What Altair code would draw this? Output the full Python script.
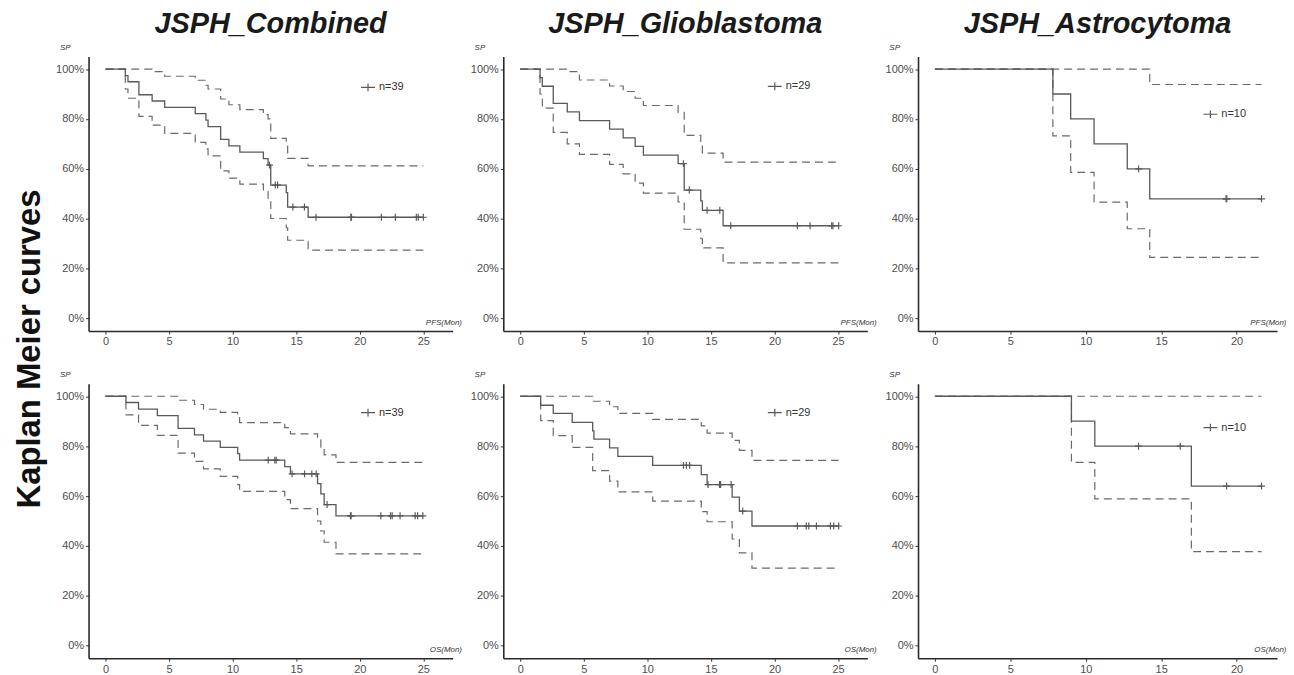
import altair as alt
import pandas as pd

FONT = "Liberation Sans"
MAIN_COL = "#595959"
CI_COL = "#6a6a6a"

# ---------------- data ----------------
# PFS - Combined (n=39)
p1_main_t = [0, 1.56, 1.77, 2.63, 3.67, 4.66, 7.06, 7.9, 8.07, 9.06, 9.71, 10.57, 12.42, 12.79, 13.0, 14.22, 14.33, 15.94, 25.0]
p1_main_s = [1.0, 0.974, 0.949, 0.897, 0.872, 0.846, 0.821, 0.795, 0.769, 0.718, 0.692, 0.667, 0.641, 0.615, 0.535, 0.505, 0.447, 0.406, 0.406]
p1_up_t = [0, 3.67, 4.66, 7.06, 7.9, 8.07, 9.06, 9.71, 10.57, 12.42, 12.79, 13.0, 14.22, 14.33, 15.94, 25.0]
p1_up_s = [1.0, 0.99, 0.971, 0.955, 0.935, 0.92, 0.88, 0.857, 0.837, 0.817, 0.8, 0.722, 0.698, 0.642, 0.612, 0.612]
p1_lo_t = [0, 1.56, 1.77, 2.63, 3.67, 4.66, 7.06, 7.9, 8.07, 9.06, 9.71, 10.57, 12.42, 12.79, 13.0, 14.22, 14.33, 15.94, 25.0]
p1_lo_s = [1.0, 0.92, 0.883, 0.81, 0.775, 0.742, 0.706, 0.68, 0.652, 0.592, 0.563, 0.539, 0.51, 0.483, 0.401, 0.364, 0.314, 0.274, 0.274]
p1_cen_t = [12.9, 13.36, 13.54, 14.74, 15.65, 16.56, 19.3, 19.35, 21.7, 22.8, 24.45, 24.6, 25.0]
p1_cen_s = [0.615, 0.535, 0.535, 0.447, 0.447, 0.406, 0.406, 0.406, 0.406, 0.406, 0.406, 0.406, 0.406]

# PFS - Glioblastoma (n=29)
p2_main_t = [0, 1.56, 1.74, 2.6, 3.7, 4.66, 7.03, 8.1, 9.04, 9.69, 12.42, 12.9, 14.2, 14.33, 15.96, 25.05]
p2_main_s = [1.0, 0.966, 0.931, 0.862, 0.828, 0.793, 0.759, 0.724, 0.69, 0.655, 0.621, 0.515, 0.472, 0.434, 0.372, 0.372]
p2_up_t = [0, 3.7, 4.66, 7.03, 8.1, 9.04, 9.69, 12.42, 12.9, 14.2, 14.33, 15.96, 25.05]
p2_up_s = [1.0, 0.99, 0.956, 0.932, 0.91, 0.883, 0.854, 0.826, 0.734, 0.70, 0.663, 0.627, 0.627]
p2_lo_t = [0, 1.56, 1.74, 2.6, 3.7, 4.66, 7.03, 8.1, 9.04, 9.69, 12.42, 12.9, 14.2, 14.33, 15.96, 25.05]
p2_lo_s = [1.0, 0.9, 0.843, 0.746, 0.70, 0.658, 0.618, 0.58, 0.543, 0.503, 0.468, 0.358, 0.32, 0.283, 0.223, 0.223]
p2_cen_t = [12.84, 13.3, 14.7, 15.7, 16.56, 21.8, 22.8, 24.5, 24.6, 25.05]
p2_cen_s = [0.621, 0.515, 0.434, 0.434, 0.372, 0.372, 0.372, 0.372, 0.372, 0.372]

# PFS - Astrocytoma (n=10)
p3_main_t = [0, 7.82, 9.0, 10.55, 12.75, 14.24, 21.65]
p3_main_s = [1.0, 0.9, 0.8, 0.7, 0.6, 0.48, 0.48]
p3_up_t = [0, 14.24, 21.65]
p3_up_s = [1.0, 0.938, 0.938]
p3_lo_t = [0, 7.82, 9.0, 10.55, 12.75, 14.24, 21.65]
p3_lo_s = [1.0, 0.732, 0.586, 0.467, 0.36, 0.245, 0.245]
p3_cen_t = [13.5, 19.3, 19.35, 21.65]
p3_cen_s = [0.6, 0.48, 0.48, 0.48]

# OS - Combined (n=39)
p4_main_t = [0, 1.61, 2.6, 4.08, 5.71, 7.0, 7.71, 9.03, 10.4, 10.55, 14.1, 14.55, 16.68, 16.94, 17.2, 18.13, 24.96]
p4_main_s = [1.0, 0.975, 0.948, 0.922, 0.871, 0.845, 0.82, 0.795, 0.77, 0.744, 0.718, 0.689, 0.65, 0.609, 0.566, 0.521, 0.521]
p4_up_t = [0, 5.71, 7.0, 7.71, 9.03, 10.4, 10.55, 14.1, 14.55, 16.68, 16.94, 17.2, 18.13, 24.96]
p4_up_s = [1.0, 0.984, 0.967, 0.948, 0.935, 0.914, 0.894, 0.874, 0.849, 0.825, 0.796, 0.765, 0.735, 0.735]
p4_lo_t = [0, 1.61, 2.6, 4.08, 5.71, 7.0, 7.71, 9.03, 10.4, 10.55, 14.1, 14.55, 16.68, 16.94, 17.2, 18.13, 24.96]
p4_lo_s = [1.0, 0.925, 0.883, 0.843, 0.772, 0.739, 0.709, 0.679, 0.646, 0.619, 0.586, 0.55, 0.5, 0.46, 0.415, 0.368, 0.368]
p4_cen_t = [12.8, 13.32, 13.43, 14.68, 15.66, 16.23, 16.57, 17.43, 19.27, 19.32, 21.66, 22.42, 22.55, 23.17, 24.36, 24.55, 24.96]
p4_cen_s = [0.744, 0.744, 0.744, 0.689, 0.689, 0.689, 0.689, 0.566, 0.521, 0.521, 0.521, 0.521, 0.521, 0.521, 0.521, 0.521, 0.521]

# OS - Glioblastoma (n=29)
p5_main_t = [0, 1.61, 2.6, 4.09, 5.7, 5.8, 7.03, 7.68, 10.42, 14.24, 14.7, 16.67, 17.24, 18.23, 25.05]
p5_main_s = [1.0, 0.964, 0.931, 0.895, 0.861, 0.828, 0.793, 0.759, 0.723, 0.686, 0.646, 0.596, 0.54, 0.48, 0.48]
p5_up_t = [0, 5.7, 7.03, 7.68, 10.42, 14.24, 14.7, 16.67, 17.24, 18.23, 25.05]
p5_up_s = [1.0, 0.98, 0.958, 0.931, 0.907, 0.881, 0.852, 0.823, 0.783, 0.743, 0.743]
p5_lo_t = [0, 1.61, 2.6, 4.09, 5.7, 7.03, 7.68, 10.42, 14.24, 14.7, 16.67, 17.24, 18.23, 25.05]
p5_lo_s = [1.0, 0.902, 0.842, 0.795, 0.702, 0.66, 0.617, 0.58, 0.538, 0.497, 0.428, 0.372, 0.311, 0.311]
p5_cen_t = [12.84, 13.07, 13.33, 14.77, 15.68, 15.76, 16.59, 17.5, 21.8, 22.5, 22.7, 23.3, 24.4, 24.66, 25.05]
p5_cen_s = [0.723, 0.723, 0.723, 0.646, 0.646, 0.646, 0.646, 0.54, 0.48, 0.48, 0.48, 0.48, 0.48, 0.48, 0.48]

# OS - Astrocytoma (n=10)
p6_main_t = [0, 9.05, 10.6, 17.0, 21.65]
p6_main_s = [1.0, 0.9, 0.8, 0.64, 0.64]
p6_up_t = [0, 21.65]
p6_up_s = [1.0, 1.0]
p6_lo_t = [0, 9.05, 10.6, 17.0, 21.65]
p6_lo_s = [1.0, 0.735, 0.589, 0.377, 0.377]
p6_cen_t = [13.5, 16.26, 19.34, 21.65]
p6_cen_s = [0.8, 0.8, 0.64, 0.64]

col_titles = ["JSPH_Combined", "JSPH_Glioblastoma", "JSPH_Astrocytoma"]
n_labels = ["n=39", "n=29", "n=10"]
x_ticks_long = [0, 5, 10, 15, 20, 25]
x_ticks_short = [0, 5, 10, 15, 20]
y_ticks = [0, 0.2, 0.4, 0.6, 0.8, 1.0]

H = 276


def panel(mt, ms, ut, us, lt, ls, ct, cs, nlab, xdom, width, xticks, xtitle, leg_xy, title=None):
    lines = pd.DataFrame(
        {"t": mt + ut + lt,
         "s": ms + us + ls,
         "kind": ["main"] * len(mt) + ["upper"] * len(ut) + ["lower"] * len(lt)}
    )
    lines["lab"] = nlab
    cens = pd.DataFrame({"t": ct, "s": cs})

    xs = alt.Scale(domain=xdom, nice=False, zero=False)
    ys = alt.Scale(domain=[-0.05, 1.05], nice=False, zero=False)
    xax = alt.Axis(values=xticks, grid=False, title=xtitle, titleX=width + 9, titleY=-9,
                   titleAlign="right", titleBaseline="middle", titleFontSize=8,
                   titleFontStyle="italic", titleFontWeight="normal", titleColor="#333333",
                   titleFont=FONT)
    yax = alt.Axis(values=y_ticks, format=".0%", grid=False, title="SP", titleAngle=0,
                   titleX=-24, titleY=-9, titleAlign="center", titleBaseline="middle",
                   titleFontSize=8, titleFontStyle="italic", titleFontWeight="normal",
                   titleColor="#333333", titleFont=FONT)

    base = alt.Chart(lines)
    ci = base.transform_filter(alt.datum.kind != "main").mark_line(
        interpolate="step-after", strokeDash=[8, 5], strokeWidth=1.2, color=CI_COL
    ).encode(
        x=alt.X("t:Q", scale=xs, axis=xax),
        y=alt.Y("s:Q", scale=ys, axis=yax),
        detail="kind:N",
    )
    main = base.transform_filter(alt.datum.kind == "main").mark_line(
        interpolate="step-after", strokeWidth=1.3
    ).encode(
        x=alt.X("t:Q", scale=xs, axis=xax),
        y=alt.Y("s:Q", scale=ys, axis=yax),
        color=alt.Color("lab:N", scale=alt.Scale(range=[MAIN_COL]),
                        legend=alt.Legend(title=None, orient="none",
                                          legendX=leg_xy[0], legendY=leg_xy[1],
                                          symbolType="M-1,0H1M0,-0.55V0.55",
                                          symbolSize=196, symbolStrokeWidth=1.2,
                                          labelFontSize=11, labelColor="#333333",
                                          labelFont=FONT, labelOffset=3)),
    )
    cen = alt.Chart(cens).mark_point(
        shape="M0,-1V1M-1,0H1", size=49, filled=False, strokeWidth=1.2,
        color=MAIN_COL, opacity=1
    ).encode(
        x=alt.X("t:Q", scale=xs, axis=xax),
        y=alt.Y("s:Q", scale=ys, axis=yax),
    )
    ch = alt.layer(ci, main, cen).properties(width=width, height=H)
    if title is not None:
        ch = ch.properties(title=alt.TitleParams(
            title, fontSize=29, font=FONT, fontStyle="italic", fontWeight="bold",
            color="#1a1a1a", anchor="middle", frame="group", offset=5))
    return ch


W12 = 366
W3 = 361
dom12 = [-1.33, 27.3]
dom3 = [-1.12, 22.68]

panels = [
    panel(p1_main_t, p1_main_s, p1_up_t, p1_up_s, p1_lo_t, p1_lo_s, p1_cen_t, p1_cen_s,
          n_labels[0], dom12, W12, x_ticks_long, "PFS(Mon)", (273, 23), col_titles[0]),
    panel(p2_main_t, p2_main_s, p2_up_t, p2_up_s, p2_lo_t, p2_lo_s, p2_cen_t, p2_cen_s,
          n_labels[1], dom12, W12, x_ticks_long, "PFS(Mon)", (265, 22), col_titles[1]),
    panel(p3_main_t, p3_main_s, p3_up_t, p3_up_s, p3_lo_t, p3_lo_s, p3_cen_t, p3_cen_s,
          n_labels[2], dom3, W3, x_ticks_short, "PFS(Mon)", (286, 50), col_titles[2]),
    panel(p4_main_t, p4_main_s, p4_up_t, p4_up_s, p4_lo_t, p4_lo_s, p4_cen_t, p4_cen_s,
          n_labels[0], dom12, W12, x_ticks_long, "OS(Mon)", (273, 21)),
    panel(p5_main_t, p5_main_s, p5_up_t, p5_up_s, p5_lo_t, p5_lo_s, p5_cen_t, p5_cen_s,
          n_labels[1], dom12, W12, x_ticks_long, "OS(Mon)", (265, 21)),
    panel(p6_main_t, p6_main_s, p6_up_t, p6_up_s, p6_lo_t, p6_lo_s, p6_cen_t, p6_cen_s,
          n_labels[2], dom3, W3, x_ticks_short, "OS(Mon)", (286, 36)),
]

chart = alt.concat(
    *panels, columns=3, spacing={"row": 53, "column": 51}, bounds="flush",
    title=alt.TitleParams("Kaplan Meier curves", orient="left", anchor="middle",
                          fontSize=33, font=FONT, fontWeight="bold", color="#111111",
                          offset=9, dx=-7),
).resolve_scale(color="independent").properties(
    padding={"left": 5, "top": 0, "right": 0, "bottom": 0}
).configure_view(stroke=None).configure_axis(
    labelFont=FONT, labelFontSize=11, labelColor="#4d4d4d",
    tickColor="#333333", tickSize=3, tickWidth=1,
    domainColor="#2a2a2a", domainWidth=1.6, labelPadding=2,
)

chart.save("out.html", embed_options={"renderer": "svg", "actions": False})
